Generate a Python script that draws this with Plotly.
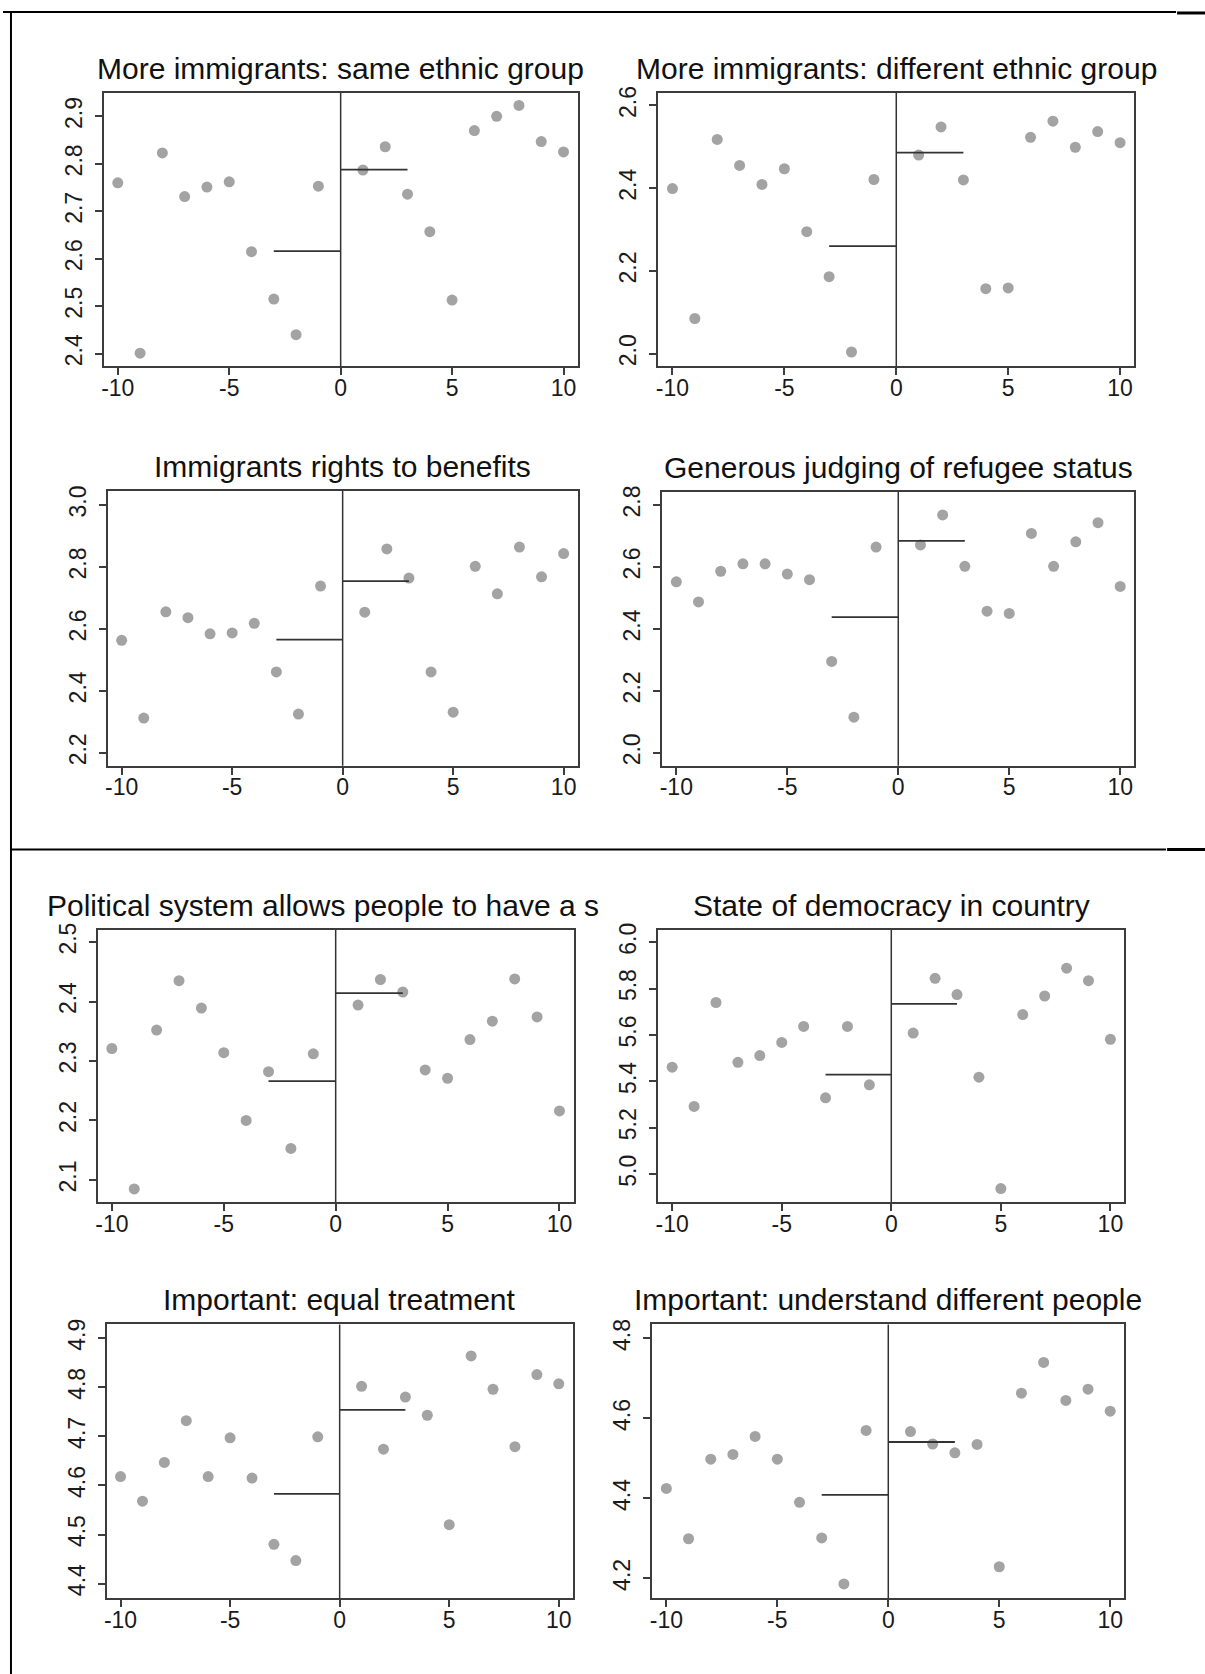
import plotly.graph_objects as go

# ---------------- data ----------------
x_vals = [-10, -9, -8, -7, -6, -5, -4, -3, -2, -1, 1, 2, 3, 4, 5, 6, 7, 8, 9, 10]

titles = [
    "More immigrants: same ethnic group",
    "More immigrants: different ethnic group",
    "Immigrants rights to benefits",
    "Generous judging of refugee status",
    "Political system allows people to have a s",
    "State of democracy in country",
    "Important: equal treatment",
    "Important: understand different people",
]

same_ethnic = [2.760, 2.401, 2.823, 2.731, 2.751, 2.762, 2.615, 2.515, 2.440, 2.753,
               2.787, 2.836, 2.736, 2.657, 2.513, 2.870, 2.900, 2.923, 2.847, 2.825]
diff_ethnic = [2.399, 2.085, 2.518, 2.455, 2.409, 2.447, 2.295, 2.186, 2.004, 2.421,
               2.480, 2.548, 2.420, 2.157, 2.159, 2.523, 2.562, 2.499, 2.537, 2.510]
benefits = [2.563, 2.312, 2.655, 2.636, 2.584, 2.587, 2.618, 2.461, 2.325, 2.738,
            2.654, 2.858, 2.764, 2.461, 2.331, 2.802, 2.713, 2.864, 2.768, 2.843]
refugee = [2.552, 2.487, 2.586, 2.610, 2.610, 2.577, 2.559, 2.295, 2.115, 2.664,
           2.671, 2.768, 2.602, 2.457, 2.450, 2.708, 2.602, 2.681, 2.743, 2.537]
have_say = [2.321, 2.085, 2.352, 2.435, 2.389, 2.314, 2.200, 2.282, 2.153, 2.312,
            2.394, 2.437, 2.416, 2.285, 2.271, 2.336, 2.367, 2.438, 2.374, 2.216]
democracy = [5.461, 5.292, 5.740, 5.482, 5.511, 5.568, 5.637, 5.329, 5.637, 5.385,
             5.608, 5.844, 5.774, 5.418, 4.938, 5.688, 5.768, 5.888, 5.834, 5.581]
equal_treat = [4.618, 4.568, 4.647, 4.732, 4.618, 4.697, 4.615, 4.480, 4.447, 4.699,
               4.802, 4.674, 4.780, 4.743, 4.520, 4.864, 4.796, 4.679, 4.826, 4.807]
understand = [4.425, 4.299, 4.498, 4.510, 4.555, 4.498, 4.390, 4.301, 4.186, 4.570,
              4.567, 4.536, 4.514, 4.535, 4.229, 4.663, 4.740, 4.645, 4.673, 4.618]

series = [same_ethnic, diff_ethnic, benefits, refugee, have_say, democracy, equal_treat, understand]

left_means = [2.616, 2.260, 2.565, 2.438, 2.266, 5.429, 4.583, 4.409]
right_means = [2.788, 2.486, 2.754, 2.684, 2.414, 5.734, 4.754, 4.541]
bandwidth = 3

x_ticks = [-10, -5, 0, 5, 10]
x_tick_labels = ["-10", "-5", "0", "5", "10"]
y_ticks = [
    [2.4, 2.5, 2.6, 2.7, 2.8, 2.9],
    [2.0, 2.2, 2.4, 2.6],
    [2.2, 2.4, 2.6, 2.8, 3.0],
    [2.0, 2.2, 2.4, 2.6, 2.8],
    [2.1, 2.2, 2.3, 2.4, 2.5],
    [5.0, 5.2, 5.4, 5.6, 5.8, 6.0],
    [4.4, 4.5, 4.6, 4.7, 4.8, 4.9],
    [4.2, 4.4, 4.6, 4.8],
]
y_ranges = [
    [2.373, 2.950], [1.969, 2.631], [2.158, 3.045], [1.958, 2.842],
    [2.063, 2.520], [4.880, 6.052], [4.370, 4.928], [4.150, 4.835],
]
x_range = [-10.63, 10.63]

# ---------------- layout (pixel boxes) ----------------
W, H = 1205, 1674
boxes = [  # left, right, top, bottom in pixels
    (101, 576, 86, 361), (657, 1134, 86, 361),
    (105, 576, 486, 762), (661, 1134, 487, 762),
    (95, 572, 927, 1200), (657, 1124, 927, 1200),
    (104, 571, 1323, 1598), (651, 1124, 1323, 1598),
]

def px(p):
    return p / W

def py(p):
    return 1 - p / H

FONT = "Liberation Sans, Arial, sans-serif"
AXIS_COL = "#3c3c3c"
DOT_COL = "#a3a3a3"

fig = go.Figure()
annotations = []
shapes = []

for i in range(8):
    n = i + 1
    xa = "x" if n == 1 else f"x{n}"
    ya = "y" if n == 1 else f"y{n}"
    L, R, T, B = boxes[i]

    fig.add_trace(go.Scatter(
        x=x_vals, y=series[i], mode="markers", xaxis=xa, yaxis=ya,
        marker=dict(color=DOT_COL, size=11, line=dict(width=0)),
        showlegend=False, hoverinfo="x+y"))
    fig.add_trace(go.Scatter(
        x=[-bandwidth, 0], y=[left_means[i], left_means[i]], mode="lines",
        xaxis=xa, yaxis=ya, line=dict(color="#333333", width=1.8),
        showlegend=False))
    fig.add_trace(go.Scatter(
        x=[0, bandwidth], y=[right_means[i], right_means[i]], mode="lines",
        xaxis=xa, yaxis=ya, line=dict(color="#333333", width=1.8),
        showlegend=False))

    shapes.append(dict(type="line", xref=xa, yref=f"{ya} domain",
                       x0=0, x1=0, y0=0, y1=1,
                       line=dict(color="#333333", width=1.5), layer="above"))

    axis_common = dict(
        showgrid=False, zeroline=False, showline=True, mirror=True,
        linecolor=AXIS_COL, linewidth=2, ticks="outside", ticklen=7,
        tickwidth=1.5, tickcolor=AXIS_COL,
        tickfont=dict(family=FONT, size=23, color="#1a1a1a"),
    )
    fig.update_layout(**{
        ("xaxis" if n == 1 else f"xaxis{n}"): dict(
            domain=[px(L), px(R)], range=x_range, tickvals=x_ticks,
            ticktext=x_tick_labels, anchor=ya, ticklabelstandoff=-7,
            **axis_common),
        ("yaxis" if n == 1 else f"yaxis{n}"): dict(
            domain=[py(B), py(T)], range=y_ranges[i], tickvals=y_ticks[i],
            tickformat=".1f", tickangle=-90, anchor=xa,
            ticklabelstandoff=4, **axis_common),
    })

    if n == 5:
        annotations.append(dict(
            text=titles[i], xref="paper", yref="paper", x=px(42), y=py(T - 6),
            xanchor="left", yanchor="bottom", showarrow=False,
            font=dict(family=FONT, size=30, color="#111111")))
    else:
        annotations.append(dict(
            text=titles[i], xref="paper", yref="paper", x=px((L + R) / 2), y=py(T - 6),
            xanchor="center", yanchor="bottom", showarrow=False,
            font=dict(family=FONT, size=30, color="#111111")))

# frame lines around the figure panels
frame = dict(color="#000000", width=2)
shapes += [
    dict(type="line", xref="paper", yref="paper", x0=px(0), x1=px(1176), y0=py(5), y1=py(5), line=frame),
    dict(type="line", xref="paper", yref="paper", x0=px(1177), x1=px(1205), y0=py(6), y1=py(6), line=dict(color="#000", width=3)),
    dict(type="line", xref="paper", yref="paper", x0=px(8), x1=px(8), y0=py(5), y1=py(1674), line=frame),
    dict(type="line", xref="paper", yref="paper", x0=px(8), x1=px(1166), y0=py(846), y1=py(846), line=frame),
    dict(type="line", xref="paper", yref="paper", x0=px(1167), x1=px(1205), y0=py(846), y1=py(846), line=dict(color="#000", width=3)),
]

fig.update_layout(
    width=W, height=H,
    margin=dict(l=0, r=0, t=0, b=0),
    paper_bgcolor="white", plot_bgcolor="white",
    annotations=annotations, shapes=shapes,
    showlegend=False,
)

fig.write_html("out.html", config={"displayModeBar": False},
               post_script="document.body.style.margin='0';")
